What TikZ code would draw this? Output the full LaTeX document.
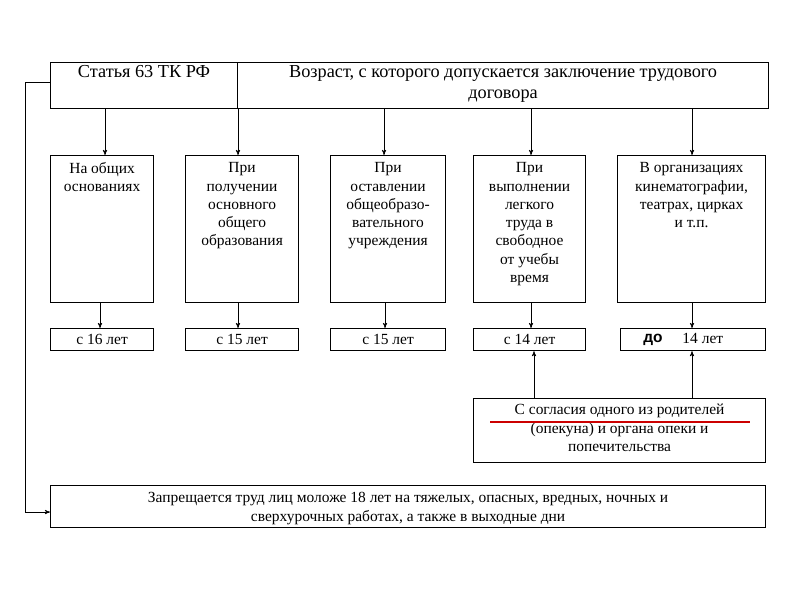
\documentclass[tikz,border=0pt]{standalone}
\usepackage{fontspec}
\setmainfont{Liberation Serif}
\newfontfamily\dofont{Liberation Sans}
\usetikzlibrary{arrows}
\newdimen\pxu \pxu=0.025cm
\tikzset{box/.style={draw,thick,inner sep=0pt,align=center,anchor=north west},
         lnk/.style={->,>=stealth',thin,shorten >=0pt}}
\newcommand\boxtext[3]{\parbox[c][#2\pxu][t]{#1\pxu}{\centering\vspace{5pt}#3}}
\begin{document}
\begin{tikzpicture}[x=0.025cm,y=-0.025cm,font=\fontsize{11}{13}\selectfont]
\useasboundingbox[fill=white] (0,0) rectangle (800,600);
% header
\node[box,font=\fontsize{13}{15}\selectfont] (art) at (50,62) {\boxtext{187}{46}{\vspace{-3pt}Статья 63 ТК РФ}};
\node[box,font=\fontsize{13}{15}\selectfont] (age) at (237,62) {\boxtext{531}{46}{\vspace{-3pt}Возраст, с которого допускается заключение трудового\\договора}};
% cases
\node[box] (c1) at (50,155) {\boxtext{103}{147}{На общих\\основаниях}};
\node[box] (c2) at (185,155) {\boxtext{113}{147}{При\\получении\\основного\\общего\\образования}};
\node[box] (c3) at (330,155) {\boxtext{115}{147}{При\\оставлении\\общеобразо-\\вательного\\учреждения}};
\node[box] (c4) at (473,155) {\boxtext{112}{147}{При\\выполнении\\легкого\\труда в\\свободное\\от учебы\\время}};
\node[box] (c5) at (617,155) {\boxtext{148}{147}{В организациях\\кинематографии,\\театрах, цирках\\и т.п.}};
% ages
\node[box,minimum width=103\pxu,minimum height=22\pxu] (a1) at (50,328) {с 16 лет};
\node[box,minimum width=113\pxu,minimum height=22\pxu] (a2) at (185,328) {с 15 лет};
\node[box,minimum width=115\pxu,minimum height=22\pxu] (a3) at (330,328) {с 15 лет};
\node[box,minimum width=112\pxu,minimum height=22\pxu] (a4) at (473,328) {с 14 лет};
\node[box,minimum width=145\pxu,minimum height=22\pxu] (a5) at (620,328) {\phantom{до} 14 лет};
\node[font=\dofont\bfseries\fontsize{11}{12}\selectfont,inner sep=1pt,fill=white] (do) at (653,340) {до};
% consent
\node[box] (cons) at (473,398) {\boxtext{292}{64}{\vspace{-1pt}С согласия одного из родителей\\(опекуна) и органа опеки и\\попечительства}};
\draw[red!80!black,line width=1.5pt] (490,422) -- (750,422);
% ban
\node[box] (ban) at (50,485) {\boxtext{715}{42}{Запрещается труд лиц моложе 18 лет на тяжелых, опасных, вредных, ночных и\\сверхурочных работах, а также в выходные дни}};
% links
\foreach \x/\n in {105/c1,238/c2,384/c3,531/c4,692/c5}
  \draw[lnk] (\x,108) -- (\n.north -| \x,0);
\foreach \x/\n/\m in {100/c1/a1,238/c2/a2,385/c3/a3,531/c4/a4,692/c5/a5}
  \draw[lnk] (\n.south -| \x,0) -- (\m.north -| \x,0);
\foreach \x/\m in {534/a4,692/a5}
  \draw[lnk] (cons.north -| \x,0) -- (\m.south -| \x,0);
\draw[lnk] (art.west |- 0,82) -- (25,82) -- (25,512) -- (ban.west |- 0,512);
\end{tikzpicture}
\end{document}
